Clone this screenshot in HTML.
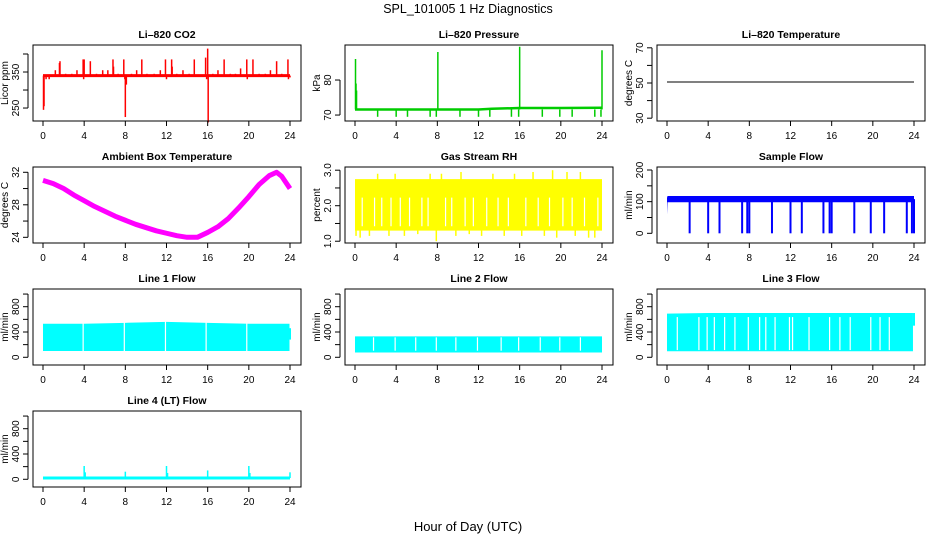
<!DOCTYPE html>
<html><head><meta charset="utf-8">
<style>
html,body{margin:0;padding:0;background:#fff;}
svg{display:block;font-family:"Liberation Sans",Arial,sans-serif;}
</style></head>
<body>
<svg id="chart" width="936" height="540" viewBox="0 0 936 540" xmlns="http://www.w3.org/2000/svg">
<rect width="936" height="540" fill="#fff"/>
<text x="468" y="13" text-anchor="middle" font-size="12.5">SPL_101005  1 Hz Diagnostics</text>
<text x="468" y="531" text-anchor="middle" font-size="13">Hour of Day (UTC)</text>
<g id="panels"></g>
</svg>
<script>
// ---- data ----
const xTicks = [0,4,8,12,16,20,24];
// CO2
const co2Base = 340;
const co2SpikeHours = [0.05,0.1,0.3,0.6,1.2,1.6,1.65,2.2,2.8,3.3,3.9,3.95,4.0,4.6,5.2,5.8,6.3,6.8,6.85,7.3,7.85,7.95,8.0,8.1,8.6,9.1,9.6,10.1,10.8,11.4,11.9,12.0,12.5,12.55,13.0,13.6,14.2,14.7,15.8,15.9,16.0,16.05,16.5,17.0,17.6,18.2,18.7,19.2,19.8,19.85,20.4,21.0,21.6,22.1,22.7,23.2,23.8,23.85,24.0];
const co2SpikeVals  = [245,255,330,330,355,375,380,345,345,355,385,330,385,380,345,355,355,385,365,345,385,330,225,315,345,355,385,345,345,355,385,330,385,365,345,355,345,385,390,330,415,210,345,355,385,345,345,360,385,330,385,345,345,355,380,345,385,330,335];
// Pressure
const presBaseHours = [0,4,8,12,13.3,16,20,24];
const presBaseVals  = [71.6,71.6,71.6,71.6,71.8,72.0,72.0,72.1];
const presSpikeHours = [0.05,0.1,0.15,2.2,4.0,5.1,7.3,7.9,8.05,10.2,12.0,13.1,15.2,15.9,16.0,18.2,19.9,21.1,23.3,23.9,24.0];
const presSpikeVals  = [86,79,77,69.5,69.5,69.5,69.5,69.5,88,69.5,69.5,69.5,69.5,69.5,89.5,69.5,69.5,69.5,69.5,69.5,88.5];
// Li-820 temperature
const tempHours = [0,24];
const tempVals = [50.6,50.6];
// Ambient box temperature
const ambHours = [0,1,2,3,4,5,6,7,8,9,10,11,12,13,14,15,16,17,18,19,20,21,22,22.7,23.2,24];
const ambVals  = [31.0,30.6,30.0,29.2,28.5,27.8,27.2,26.6,26.1,25.6,25.2,24.8,24.5,24.2,24.0,24.0,24.6,25.3,26.3,27.6,29.0,30.5,31.6,32.0,31.5,30.0];
// Gas stream RH band and spikes
const rhHours = [0,24];
const rhLow = [1.3,1.3];
const rhHigh = [2.75,2.75];
const rhSpikeHours = [0.1,0.5,1.4,2.2,3.3,3.9,4.8,6.1,7.3,7.9,8.4,9.8,10.3,11.1,12.3,13.4,14.5,15.5,16.2,17.3,18.4,19.2,19.6,20.6,21.4,21.9,22.7,23.3];
const rhSpikeVals  = [1.15,1.1,1.15,2.9,1.15,2.9,1.15,1.2,2.9,1.0,2.9,1.15,2.95,1.2,1.15,2.9,1.15,2.9,1.15,2.95,1.15,3.0,1.1,2.95,1.15,2.95,1.1,1.1];
const rhGapHours = [0.7,1.9,2.6,3.5,4.4,5.3,6.5,7.1,8.8,9.4,10.7,11.5,12.8,13.9,14.9,16.6,17.8,18.9,20.2,21.1,22.3,23.6];
// Sample flow
const sfHours = [0,0.05,24];
const sfLow = [60,98,98];
const sfHigh = [112,118,118];
const sfDipHours = [2.2,4.0,5.1,7.3,7.8,8.0,10.2,12.0,13.1,15.2,15.8,16.0,18.2,19.8,21.1,23.3,23.8,24.0];
// Line flows
const l1Hours = [0,4,8,12,16,20,23.95];
const l1Low  = [100,100,100,100,100,100,100];
const l1High = [530,530,545,560,545,530,530];
const l1Gaps = [3.9,7.9,11.9,15.85,19.8];
const l2Hours = [0,24];
const l2Low = [75,75];
const l2High = [330,330];
const l2Gaps = [1.8,3.9,5.9,7.9,9.8,11.9,14.2,15.9,18.0,19.9,21.9];
const l3Hours = [0,4,23.9];
const l3Low = [95,95,95];
const l3High = [690,700,700];
const l3Gaps = [1.0,3.1,3.9,4.6,5.6,6.6,7.9,9.0,9.6,10.5,11.9,12.2,13.8,15.8,16.8,17.8,19.8,20.7,21.6];
const l4Hours = [0,24];
const l4Vals = [20,20];
const l4SpikeHours = [4.0,4.1,8.0,12.0,12.1,16.0,20.0,20.1,24.0];
const l4SpikeVals  = [210,110,120,210,100,140,210,100,110];

// ---- layout ----
const NS='http://www.w3.org/2000/svg';
const root=document.getElementById('panels');
function mk(tag,attrs,parent){const e=document.createElementNS(NS,tag);for(const k in attrs)e.setAttribute(k,attrs[k]);(parent||root).appendChild(e);return e;}
const colLeft=[33,345,657];
const rowTop=[45,167,289,411];
const BW=268,BH=76;

function panel(name,title,col,row,ylab,ymin,ymax,ticks,labels){
  const L=colLeft[col],T=rowTop[row];
  const g=mk('g',{});
  
  
  const xs=h=>L+10+h*(247/24);
  const ys=v=>T+BH-(v-ymin)/(ymax-ymin)*BH;
  const t=mk('text',{x:L+BW/2,y:T-7,'text-anchor':'middle','font-size':10.5,'font-weight':'bold'},g);
  t.textContent=title;
  
  
  const plot=mk('g',{},g);
  
  
  const box=mk('rect',{x:L,y:T,width:BW,height:BH,fill:'none',stroke:'#000','stroke-width':1},g);
  
  
  const xa=mk('g',{},g);
  
  
  mk('line',{x1:xs(0),x2:xs(24),y1:T+BH,y2:T+BH,stroke:'#000'},xa);
  xTicks.forEach(h=>{
    mk('line',{x1:xs(h),x2:xs(h),y1:T+BH,y2:T+BH+5,stroke:'#000'},xa);
    const tl=mk('text',{x:xs(h),y:T+BH+18,'text-anchor':'middle','font-size':10},xa);
    tl.textContent=h;
  });
  const ya=mk('g',{},g);
  
  
  mk('line',{x1:L-5,x2:L-5,y1:ys(ticks[0]),y2:ys(ticks[ticks.length-1]),stroke:'#000'},ya);
  ticks.forEach(v=>{
    mk('line',{x1:L-5,x2:L-10,y1:ys(v),y2:ys(v),stroke:'#000'},ya);
  });
  labels.forEach(v=>{
    const y=ys(v);
    const tl=mk('text',{x:L-14,y:y,'text-anchor':'middle','font-size':10,transform:`rotate(-90 ${L-14} ${y})`},ya);
    tl.textContent=v;
  });
  const yl=mk('text',{x:L-25,y:T+BH/2,'text-anchor':'middle','font-size':10,transform:`rotate(-90 ${L-25} ${T+BH/2})`},g);
  yl.textContent=ylab;
  
  
  return {xs,ys,plot};
}
function polyline(p,hours,vals,color,w){
  const pts=hours.map((h,i)=>p.xs(h)+','+p.ys(vals[i])).join(' ');
  return mk('polyline',{points:pts,fill:'none',stroke:color,'stroke-width':w,'stroke-linejoin':'round'},p.plot);
}
function band(p,hours,lo,hi,color){
  const up=hours.map((h,i)=>p.xs(h)+','+p.ys(hi[i]));
  const dn=hours.map((h,i)=>p.xs(h)+','+p.ys(lo[i])).reverse();
  return mk('polygon',{points:up.concat(dn).join(' '),fill:color},p.plot);
}
function spikes(p,hours,base,vals,color,w){
  hours.forEach((h,i)=>{
    const b=Array.isArray(base)?base[i]:base;
    mk('line',{x1:p.xs(h),x2:p.xs(h),y1:p.ys(b),y2:p.ys(vals[i]),stroke:color,'stroke-width':w},p.plot);
  });
}
function gaps(p,hours,lo,hi){
  hours.forEach(h=>{
    mk('line',{x1:p.xs(h),x2:p.xs(h),y1:p.ys(hi)-1,y2:p.ys(lo)+1,stroke:'#fff','stroke-width':1.2},p.plot);
  });
}

let p=panel('co2-panel','Li–820 CO2',0,0,'Licor ppm',214,425,[250,300,350,400],[250,350]);
polyline(p,[0,24],[co2Base,co2Base],'#f00',3);
spikes(p,co2SpikeHours,co2Base,co2SpikeVals,'#f00',1.5);
p=panel('pressure-panel','Li–820 Pressure',1,0,'kPa',68.3,90,[70,80],[70,80]);
polyline(p,presBaseHours,presBaseVals,'#0c0',2.5);
spikes(p,presSpikeHours,71.6,presSpikeVals,'#0c0',1.5);
p=panel('temperature-panel','Li–820 Temperature',2,0,'degrees C',28.4,71.6,[30,40,50,60,70],[30,50,70]);
polyline(p,tempHours,tempVals,'#000',1);
p=panel('ambient-temp-panel','Ambient Box Temperature',0,1,'degrees C',23.3,32.65,[24,26,28,30,32],[24,28,32]);
polyline(p,ambHours,ambVals,'#f0f',5);
p=panel('gas-rh-panel','Gas Stream RH',1,1,'percent',0.95,3.09,[1.0,1.5,2.0,2.5,3.0],['1.0','2.0','3.0']);
band(p,rhHours,rhLow,rhHigh,'#ff0');
gaps(p,rhGapHours,1.45,2.2);
spikes(p,rhSpikeHours,2.0,rhSpikeVals,'#ff0',1.5);
p=panel('sample-flow-panel','Sample Flow',2,1,'ml/min',-30.6,209.5,[0,50,100,150,200],[0,100,200]);
band(p,sfHours,sfLow,sfHigh,'#00f');
spikes(p,sfDipHours,108,sfDipHours.map(()=>0),'#00f',2);
p=panel('line1-flow-panel','Line 1 Flow',0,2,'ml/min',-122,1080,[0,200,400,600,800,1000],[0,400,800]);
band(p,l1Hours,l1Low,l1High,'#0ff');
gaps(p,l1Gaps,100,560);
spikes(p,[24],[280],[460],'#0ff',2);
p=panel('line2-flow-panel','Line 2 Flow',1,2,'ml/min',-122,1080,[0,200,400,600,800,1000],[0,400,800]);
band(p,l2Hours,l2Low,l2High,'#0ff');
gaps(p,l2Gaps,120,300);
p=panel('line3-flow-panel','Line 3 Flow',2,2,'ml/min',-122,1080,[0,200,400,600,800,1000],[0,400,800]);
band(p,l3Hours,l3Low,l3High,'#0ff');
gaps(p,l3Gaps,130,620);
spikes(p,[24],[500],[700],'#0ff',2);
p=panel('line4-flow-panel','Line 4 (LT) Flow',0,3,'ml/min',-122,1080,[0,200,400,600,800,1000],[0,400,800]);
polyline(p,l4Hours,l4Vals,'#0ff',3);
spikes(p,l4SpikeHours,20,l4SpikeVals,'#0ff',1.5);
</script>
</body></html>
